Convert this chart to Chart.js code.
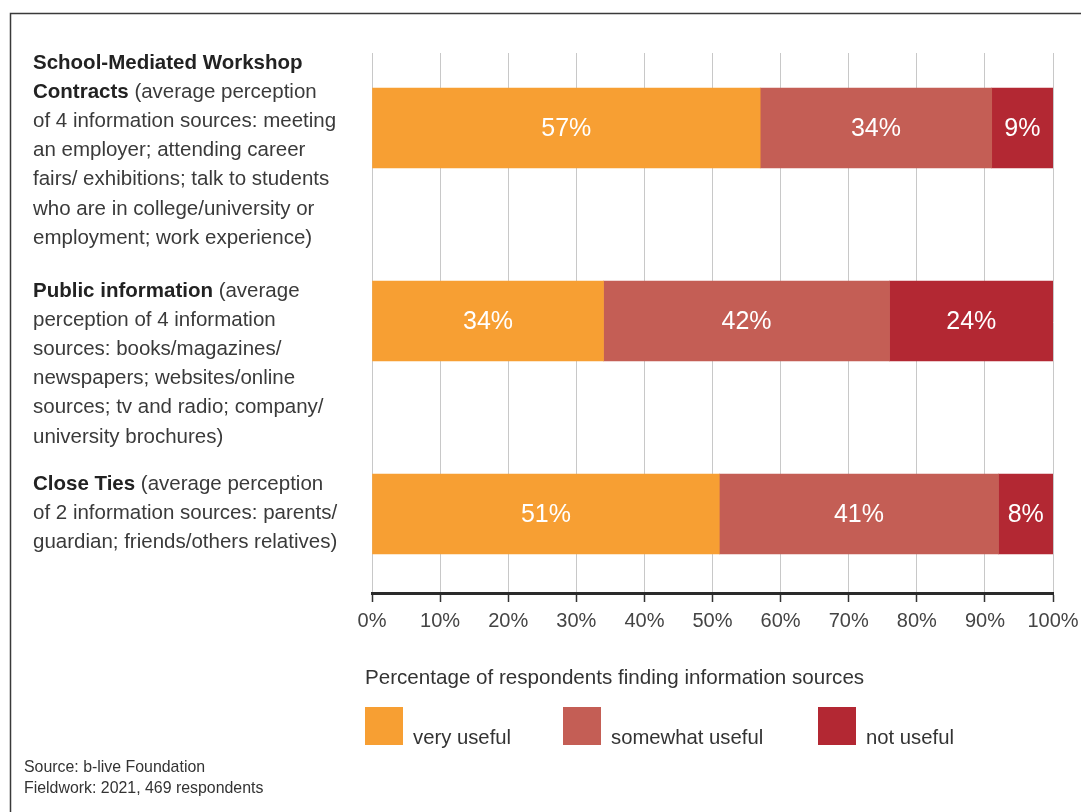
<!DOCTYPE html>
<html>
<head>
<meta charset="utf-8">
<script src="https://cdn.jsdelivr.net/npm/chart.js@4.4.1/dist/chart.umd.min.js"></script>
<style>
  body { margin: 0; background: #fff; }
  canvas { display: block; }
</style>
</head>
<body>
<canvas id="chart" width="1081" height="812"></canvas>
<script>
// category labels, one string per printed line, **bold** marks the title part
const categoryLines = [
  [
    '**School-Mediated Workshop**',
    '**Contracts** (average perception',
    'of 4 information sources: meeting',
    'an employer; attending career',
    'fairs/ exhibitions; talk to students',
    'who are in college/university or',
    'employment; work experience)'
  ],
  [
    '**Public information** (average',
    'perception of 4 information',
    'sources: books/magazines/',
    'newspapers; websites/online',
    'sources; tv and radio; company/',
    'university brochures)'
  ],
  [
    '**Close Ties** (average perception',
    'of 2 information sources: parents/',
    'guardian; friends/others relatives)'
  ]
];

const seriesNames = ['very useful', 'somewhat useful', 'not useful'];
const veryUseful = [57, 34, 51];
const somewhatUseful = [34, 42, 41];
const notUseful = [9, 24, 8];

const axisTitle = 'Percentage of respondents finding information sources';
const sourceLines = ['Source: b-live Foundation', 'Fieldwork: 2021, 469 respondents'];

const FONT = '"Liberation Sans", Arial, Helvetica, sans-serif';
const colors = ['#F79F33', '#C45E55', '#B32833'];

function toPoints(values)
{
  return values.map((v, i) => ({ x: v, y: i }));
}

function drawRich(ctx, line, x, y)
{
  line.split('**').forEach((part, i) => {
    if (!part) return;
    ctx.font = (i % 2 ? 'bold ' : '') + '20.5px ' + FONT;
    ctx.fillStyle = i % 2 ? '#222' : '#3a3a3a';
    ctx.fillText(part, x, y);
    x += ctx.measureText(part).width;
  });
}

// frame, category texts, legend and source note
const decorations = {
  id: 'decorations',
  afterDraw(chart)
  {
    const ctx = chart.ctx;
    const yScale = chart.scales.y;
    ctx.save();

    ctx.strokeStyle = '#3a3a3a';
    ctx.lineWidth = 1.5;
    ctx.beginPath();
    ctx.moveTo(10.5, 812);
    ctx.lineTo(10.5, 13.5);
    ctx.lineTo(1081, 13.5);
    ctx.stroke();

    ctx.textBaseline = 'middle';
    ctx.textAlign = 'left';
    const shift = [-65, -30, -30];
    categoryLines.forEach((lines, i) => {
      const top = yScale.getPixelForValue(i) + shift[i];
      lines.forEach((line, j) => drawRich(ctx, line, 33, top + j * 29.2));
    });

    ctx.font = '20.6px ' + FONT;
    ctx.fillStyle = '#333';
    ctx.fillText(axisTitle, 365, 678);

    ctx.font = '20.3px ' + FONT;
    const boxX = [365, 563, 818];
    chart.data.datasets.forEach((ds, i) => {
      ctx.fillStyle = ds.backgroundColor;
      ctx.fillRect(boxX[i], 707, 38, 38);
      ctx.fillStyle = '#333';
      ctx.fillText(ds.label, boxX[i] + 48, 738);
    });

    ctx.font = '15.9px ' + FONT;
    sourceLines.forEach((line, i) => ctx.fillText(line, 24, 768 + i * 21));
    ctx.restore();
  }
};

// percentage text inside each bar segment
const barLabels = {
  id: 'barLabels',
  afterDatasetsDraw(chart)
  {
    const ctx = chart.ctx;
    ctx.save();
    ctx.font = '25px ' + FONT;
    ctx.fillStyle = '#fff';
    ctx.textAlign = 'center';
    ctx.textBaseline = 'middle';
    chart.data.datasets.forEach((ds, i) => {
      chart.getDatasetMeta(i).data.forEach((el, j) => {
        const cx = (el.x + el.base) / 2;
        ctx.fillText(ds.data[j].x + '%', cx, el.y + 1);
      });
    });
    ctx.restore();
  }
};

new Chart(document.getElementById('chart'), {
  type: 'bar',
  data: {
    datasets: [
      { label: seriesNames[0], data: toPoints(veryUseful), backgroundColor: colors[0] },
      { label: seriesNames[1], data: toPoints(somewhatUseful), backgroundColor: colors[1] },
      { label: seriesNames[2], data: toPoints(notUseful), backgroundColor: colors[2] }
    ]
  },
  options: {
    indexAxis: 'y',
    responsive: false,
    animation: false,
    events: [],
    barThickness: 80,
    layout: { padding: { left: 372, right: 28, top: 53, bottom: 159 } },
    plugins: { legend: { display: false }, tooltip: { enabled: false } },
    scales: {
      x: {
        type: 'linear',
        min: 0,
        max: 100,
        stacked: true,
        ticks: {
          stepSize: 10,
          callback: v => v + '%',
          font: { family: FONT, size: 20 },
          color: '#444',
          padding: 7
        },
        grid: { color: '#c8c8c8', lineWidth: 1, tickColor: '#333', tickLength: 9, tickWidth: 1.5 },
        border: { color: '#2a2a2a', width: 3 },
        afterFit: s => { s.height = 60; s.paddingLeft = 0; s.paddingRight = 0; }
      },
      y: {
        type: 'linear',
        display: false,
        reverse: true,
        stacked: true,
        offset: false,
        grid: { offset: false },
        min: -0.3886,
        max: 2.4093
      }
    }
  },
  plugins: [decorations, barLabels]
});
</script>
</body>
</html>
